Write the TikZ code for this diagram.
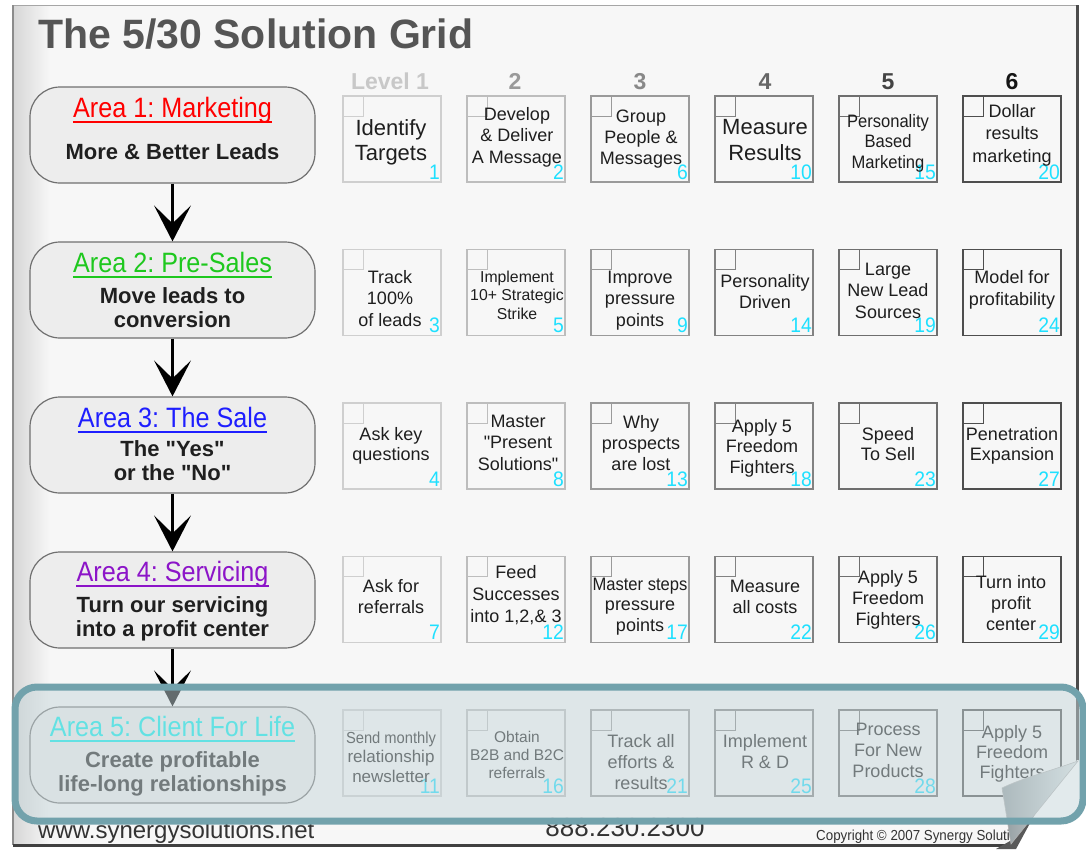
\documentclass[tikz,border=0pt]{standalone}
\usepackage{fontspec}
\setmainfont{Liberation Sans}[Ligatures=TeXOff]
\newfontfamily\narrowfont[FakeStretch=0.92]{Liberation Sans}
\newfontfamily\areafont[FakeStretch=0.9]{Liberation Sans}
\usetikzlibrary{arrows.meta,calc}
\definecolor{pagebg}{HTML}{F7F7F7}
\definecolor{titlegray}{HTML}{555555}
\definecolor{cellcyan}{HTML}{1EE0FF}
\definecolor{celltext}{HTML}{1E1E1E}
\definecolor{areared}{HTML}{FF0000}
\definecolor{areagreen}{HTML}{1EC81E}
\definecolor{areablue}{HTML}{1E1EFF}
\definecolor{areapurple}{HTML}{8C14C8}
\definecolor{areacyan}{HTML}{00EEEE}
\definecolor{areafill}{HTML}{EDEDED}
\definecolor{areaborder}{HTML}{707070}
\definecolor{hlborder}{HTML}{72A2AC}
\definecolor{hlfill}{HTML}{C6D6DA}
\definecolor{colc1}{HTML}{CFCFCF}
\definecolor{colc2}{HTML}{BDBDBD}
\definecolor{colc3}{HTML}{9A9A9A}
\definecolor{colc4}{HTML}{828282}
\definecolor{colc5}{HTML}{6E6E6E}
\definecolor{colc6}{HTML}{4E4E4E}
\definecolor{lev1}{HTML}{C8C8C8}
\definecolor{lev2}{HTML}{9A9A9A}
\definecolor{lev3}{HTML}{888888}
\definecolor{lev4}{HTML}{666666}
\definecolor{lev5}{HTML}{444444}
\definecolor{lev6}{HTML}{151515}
\definecolor{flapdark}{HTML}{939DA0}
\definecolor{flaplight}{HTML}{E3E9EA}

\tikzset{
  cellbox/.style={rectangle, minimum width=98pt, minimum height=86pt, inner sep=0pt, outer sep=0pt, line width=1.1pt},
  cellnum/.style={inner sep=0pt, text=cellcyan, font=\narrowfont\fontsize{21}{21}\selectfont},
  celltxt/.style={inner sep=0pt, text=celltext},
  areabox/.style={rectangle, rounded corners=30pt, minimum width=285pt, minimum height=96pt, draw=areaborder, fill=areafill, line width=1.2pt},
  areatitle/.style={inner sep=0pt, font=\areafont\fontsize{28}{28}\selectfont},
  areabody/.style={inner sep=0pt, text=black!88, font=\bfseries\fontsize{22}{24}\selectfont},
  levelhead/.style={inner sep=0pt, font=\bfseries\fontsize{23}{23}\selectfont},
  flowarrow/.style={line width=3pt, draw=black, -{Stealth[length=36pt, width=37pt, inset=18pt]}},
  foottext/.style={inner sep=0pt, text=black!80},
}

% #1 col, #2 row, #3 name, #4 number
\newcommand\gcell[4]{%
  \pgfmathsetmacro\gcL{343+124*(#1-1)}%
  \pgfmathsetmacro\gcT{96+153.5*(#2-1)}%
  \node[cellbox, draw=colc#1, anchor=north west] (#3) at (\gcL,\gcT) {};%
  \draw[draw=colc#1, line width=1pt] ([xshift=20pt]#3.north west) -- ++(0,20) -- ++(-20,0);%
  \node[cellnum, anchor=base east] (#3n) at ([xshift=-1pt, yshift=3pt]#3.south east) {#4};%
}
% #1 name, #2 x, #3 first baseline, #4 size, #5 skip, #6 text
\newcommand\ctext[6]{%
  \node[celltxt, anchor=base] (#1) at (#2,#3) {\fontsize{#4}{#5}\selectfont\begin{tabular}[t]{@{}c@{}}#6\end{tabular}};%
}

\begin{document}
\frenchspacing
\begin{tikzpicture}[x=1pt,y=-1pt]
\useasboundingbox (0,0) rectangle (1086,849);
\fill[white] (0,0) rectangle (1086,849);

% page
\fill[pagebg] (13,5) rectangle (1077,845);
\shade[left color=black!16, right color=pagebg] (13,5) rectangle (50,845);
\draw[black!35, line width=1pt] (13,5) -- (1077,5);
\draw[black!45, line width=1.2pt] (13,5) -- (13,845);
\draw[black!70, line width=3pt] (1077,5) -- (1077,762);
\draw[black!75, line width=3pt] (13,845) -- (1012,845);

% title
\node[inner sep=0pt, anchor=base west, text=titlegray, font=\bfseries\fontsize{41}{41}\selectfont] (title) at (38,48) {The 5/30 Solution Grid};

% level headers
\node[levelhead, text=lev1, anchor=base] (h1) at (390,89) {Level 1};
\node[levelhead, text=lev2, anchor=base] (h2) at (515,89) {2};
\node[levelhead, text=lev3, anchor=base] (h3) at (640,89) {3};
\node[levelhead, text=lev4, anchor=base] (h4) at (765,89) {4};
\node[levelhead, text=lev5, anchor=base] (h5) at (888,89) {5};
\node[levelhead, text=lev6, anchor=base] (h6) at (1012,89) {6};

% grid cells
\gcell{1}{1}{c1}{1}
\gcell{2}{1}{c2}{2}
\gcell{3}{1}{c6}{6}
\gcell{4}{1}{c10}{10}
\gcell{5}{1}{c15}{15}
\gcell{6}{1}{c20}{20}
\gcell{1}{2}{c3}{3}
\gcell{2}{2}{c5}{5}
\gcell{3}{2}{c9}{9}
\gcell{4}{2}{c14}{14}
\gcell{5}{2}{c19}{19}
\gcell{6}{2}{c24}{24}
\gcell{1}{3}{c4}{4}
\gcell{2}{3}{c8}{8}
\gcell{3}{3}{c13}{13}
\gcell{4}{3}{c18}{18}
\gcell{5}{3}{c23}{23}
\gcell{6}{3}{c27}{27}
\gcell{1}{4}{c7}{7}
\gcell{2}{4}{c12}{12}
\gcell{3}{4}{c17}{17}
\gcell{4}{4}{c22}{22}
\gcell{5}{4}{c26}{26}
\gcell{6}{4}{c29}{29}
\gcell{1}{5}{c11}{11}
\gcell{2}{5}{c16}{16}
\gcell{3}{5}{c21}{21}
\gcell{4}{5}{c25}{25}
\gcell{5}{5}{c28}{28}
\gcell{6}{5}{c30}{}

% cell texts
\ctext{t1}{391}{135}{22}{25}{Identify\\Targets}
\ctext{t2}{517}{120}{18}{21.5}{Develop\\\& Deliver\\A Message}
\ctext{t6}{641}{122}{18}{21}{Group\\People \&\\Messages}
\ctext{t10}{765}{134}{22}{26}{Measure\\Results}
\ctext{t15}{888}{127}{18}{20.5}{\narrowfont Personality\\\narrowfont Based\\\narrowfont Marketing}
\ctext{t20}{1012}{117}{18}{22.5}{Dollar\\results\\marketing}

\ctext{t3}{390}{283}{18}{21.5}{Track\\100\%\\of leads}
\ctext{t5}{517}{282}{15.8}{18.5}{Implement\\10+ Strategic\\Strike}
\ctext{t9}{640}{283}{18}{21.5}{Improve\\pressure\\points}
\ctext{t14}{765}{287}{18}{21}{Personality\\Driven}
\ctext{t19}{888}{275}{18}{21.5}{Large\\New Lead\\Sources}
\ctext{t24}{1012}{283}{18}{22}{Model for\\profitability}

\ctext{t4}{391}{440}{18}{20.5}{Ask key\\questions}
\ctext{t8}{518}{427}{18}{21.5}{Master\\"Present\\Solutions"}
\ctext{t13}{641}{428}{18}{21}{Why\\prospects\\are lost}
\ctext{t18}{762}{432}{18}{20.5}{Apply 5\\Freedom\\Fighters}
\ctext{t23}{888}{440}{18}{20.5}{Speed\\To Sell}
\ctext{t27}{1012}{440}{18}{20.5}{Penetration\\Expansion}

\ctext{t7}{391}{592}{18}{21}{Ask for\\referrals}
\ctext{t12}{516}{578}{18}{22}{Feed\\Successes\\into 1,2,\& 3}
\ctext{t17}{640}{590}{18}{20.5}{{\narrowfont Master steps}\\pressure\\points}
\ctext{t22}{765}{592}{18}{21}{Measure\\all costs}
\ctext{t26}{888}{583}{18}{21}{Apply 5\\Freedom\\Fighters}
\ctext{t29}{1011}{588}{18}{21}{Turn into\\profit\\center}

\ctext{t11}{391}{743}{17}{19.5}{{\narrowfont\fontsize{16}{19.5}\selectfont Send monthly}\\relationship\\newsletter}
\ctext{t16}{517}{742}{15.5}{18}{Obtain\\B2B and B2C\\referrals}
\ctext{t21}{641}{747}{18}{21}{Track all\\efforts \&\\results}
\ctext{t25}{765}{747}{18}{21}{Implement\\R \& D}
\ctext{t28}{888}{735}{18}{21}{Process\\For New\\Products}
\ctext{t30}{1012}{738}{18}{20}{Apply 5\\Freedom\\Fighters}

% area boxes
\node[areabox] (a1) at (172.5,135) {};
\node[areabox] (a2) at (172.5,290) {};
\node[areabox] (a3) at (172.5,445) {};
\node[areabox] (a4) at (172.5,600) {};
\node[areabox] (a5) at (172.5,755) {};

\node[areatitle, text=areared, anchor=base] (a1t) at (172.5,117) {Area 1: Marketing};
\node[areatitle, text=areagreen, anchor=base] (a2t) at (172.5,272) {Area 2: Pre-Sales};
\node[areatitle, text=areablue, anchor=base] (a3t) at (172.5,427) {Area 3: The Sale};
\node[areatitle, text=areapurple, anchor=base] (a4t) at (172.5,581) {Area 4: Servicing};
\node[areatitle, text=areacyan, anchor=base] (a5t) at (172.5,736) {Area 5: Client For Life};
\draw[areared, line width=2.5pt] ([yshift=-5pt]a1t.base west) -- ([yshift=-5pt]a1t.base east);
\draw[areagreen, line width=2.5pt] ([yshift=-5pt]a2t.base west) -- ([yshift=-5pt]a2t.base east);
\draw[areablue, line width=2.5pt] ([yshift=-5pt]a3t.base west) -- ([yshift=-5pt]a3t.base east);
\draw[areapurple, line width=2.5pt] ([yshift=-5pt]a4t.base west) -- ([yshift=-5pt]a4t.base east);
\draw[areacyan, line width=2.5pt] ([yshift=-5pt]a5t.base west) -- ([yshift=-5pt]a5t.base east);

\node[areabody, anchor=base] (a1b) at (172.5,159) {\begin{tabular}[t]{@{}c@{}}More \& Better Leads\end{tabular}};
\node[areabody, anchor=base] (a2b) at (172.5,303) {\begin{tabular}[t]{@{}c@{}}Move leads to\\conversion\end{tabular}};
\node[areabody, anchor=base] (a3b) at (172.5,456) {\begin{tabular}[t]{@{}c@{}}The "Yes"\\or the "No"\end{tabular}};
\node[areabody, anchor=base] (a4b) at (172.5,612) {\begin{tabular}[t]{@{}c@{}}Turn our servicing\\into a profit center\end{tabular}};
\node[areabody, anchor=base] (a5b) at (172.5,767) {\begin{tabular}[t]{@{}c@{}}Create profitable\\life-long relationships\end{tabular}};

% arrows
\draw[flowarrow] (a1) -- (a2);
\draw[flowarrow] (a2) -- (a3);
\draw[flowarrow] (a3) -- (a4);
\draw[flowarrow] (a4) -- (a5);

% footer
\node[foottext, anchor=base west, font=\fontsize{24}{24}\selectfont] (web) at (38,838) {www.synergysolutions.net};
\node[foottext, anchor=base, font=\fontsize{26}{26}\selectfont] (phone) at (625,836) {888.230.2300};
\node[foottext, anchor=base west, font=\narrowfont\fontsize{14.5}{14.5}\selectfont] (copy) at (816,840) {Copyright © 2007 Synergy Solutions};

% page curl
\fill[white] (1077,760) -- (1086,760) -- (1086,849) -- (1009,849) -- cycle;
\fill[black!65] (996,849) -- (1010,841) -- (1036,812) -- (1016,849) -- cycle;
\shade[left color=flapdark, right color=flaplight, draw=black!30, line width=0.6pt]
  (1078,761) .. controls (1050,771) and (1020,779) .. (1002,788)
  .. controls (1005,806) and (1008,825) .. (1011,844) -- cycle;

% highlight overlay
\draw[line width=7pt, draw=hlborder, fill=hlfill, fill opacity=0.5, rounded corners=22pt] (15,687) rectangle (1083,821);
\end{tikzpicture}
\end{document}
